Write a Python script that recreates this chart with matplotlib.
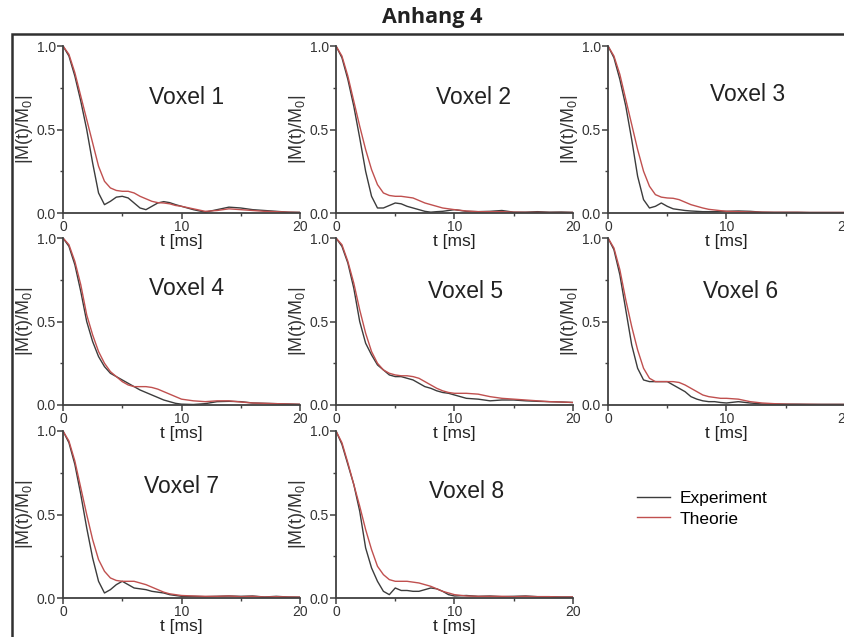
import numpy as np
import matplotlib
matplotlib.use("Agg")
import matplotlib.pyplot as plt
from matplotlib.patches import Rectangle
from matplotlib.ticker import MultipleLocator, FormatStrFormatter

plt.rcParams['font.family'] = ['Liberation Sans', 'DejaVu Sans']
plt.rcParams['mathtext.fontset'] = 'custom'
plt.rcParams['mathtext.rm'] = 'Liberation Sans'
plt.rcParams['mathtext.it'] = 'Liberation Sans:italic'

# time axis [ms], shared by all voxels
t_ms = [0, 0.5, 1, 1.5, 2, 2.5, 3, 3.5, 4, 4.5, 5, 5.5, 6, 6.5, 7, 7.5, 8, 8.5, 9, 9.5,
        10, 11, 12, 13, 14, 15, 16, 17, 18, 19, 20]

# |M(t)/M0|, experiment (black) and theory (red)
exp_v1 = [1, 0.94, 0.82, 0.67, 0.5, 0.3, 0.12, 0.05, 0.07, 0.095, 0.1, 0.09, 0.06, 0.03, 0.02, 0.04,
          0.06, 0.068, 0.062, 0.05, 0.04, 0.02, 0.005, 0.02, 0.035, 0.03, 0.02, 0.015, 0.01, 0.005, 0.004]
theo_v1 = [1, 0.95, 0.84, 0.7, 0.56, 0.42, 0.28, 0.19, 0.15, 0.135, 0.13, 0.13, 0.12, 0.1, 0.085, 0.07,
           0.062, 0.06, 0.055, 0.045, 0.04, 0.025, 0.01, 0.015, 0.025, 0.02, 0.015, 0.01, 0.008, 0.005, 0.003]

exp_v2 = [1, 0.93, 0.8, 0.64, 0.45, 0.25, 0.1, 0.03, 0.03, 0.045, 0.06, 0.055, 0.04, 0.03, 0.02, 0.01,
          0.005, 0.008, 0.01, 0.015, 0.02, 0.01, 0.008, 0.01, 0.015, 0.005, 0.005, 0.008, 0.005, 0.006, 0.004]
theo_v2 = [1, 0.94, 0.82, 0.67, 0.52, 0.38, 0.26, 0.17, 0.12, 0.105, 0.1, 0.1, 0.095, 0.09, 0.075, 0.06,
           0.05, 0.04, 0.03, 0.025, 0.02, 0.012, 0.008, 0.008, 0.008, 0.005, 0.004, 0.004, 0.003, 0.003, 0.003]

exp_v3 = [1, 0.93, 0.8, 0.64, 0.44, 0.22, 0.08, 0.03, 0.04, 0.06, 0.04, 0.025, 0.02, 0.015, 0.012, 0.01,
          0.008, 0.008, 0.008, 0.01, 0.01, 0.012, 0.01, 0.005, 0.004, 0.004, 0.004, 0.003, 0.003, 0.003, 0.003]
theo_v3 = [1, 0.94, 0.83, 0.68, 0.53, 0.38, 0.25, 0.16, 0.11, 0.095, 0.09, 0.088, 0.08, 0.065, 0.05, 0.04,
           0.03, 0.022, 0.018, 0.014, 0.01, 0.008, 0.006, 0.005, 0.004, 0.004, 0.004, 0.003, 0.003, 0.003, 0.003]

exp_v4 = [1, 0.95, 0.84, 0.68, 0.5, 0.38, 0.29, 0.23, 0.19, 0.17, 0.15, 0.13, 0.11, 0.09, 0.075, 0.06,
          0.045, 0.03, 0.02, 0.01, 0.005, 0.003, 0.008, 0.02, 0.022, 0.02, 0.012, 0.01, 0.008, 0.006, 0.004]
theo_v4 = [1, 0.96, 0.86, 0.72, 0.54, 0.42, 0.32, 0.25, 0.2, 0.17, 0.14, 0.12, 0.11, 0.11, 0.11, 0.105,
           0.095, 0.08, 0.065, 0.05, 0.035, 0.025, 0.02, 0.025, 0.025, 0.018, 0.012, 0.01, 0.008, 0.006, 0.004]

exp_v5 = [1, 0.95, 0.85, 0.7, 0.5, 0.37, 0.3, 0.24, 0.21, 0.18, 0.17, 0.17, 0.16, 0.15, 0.13, 0.11,
          0.1, 0.085, 0.075, 0.07, 0.06, 0.04, 0.035, 0.025, 0.03, 0.03, 0.025, 0.022, 0.02, 0.018, 0.015]
theo_v5 = [1, 0.96, 0.86, 0.73, 0.57, 0.43, 0.32, 0.25, 0.21, 0.19, 0.18, 0.175, 0.175, 0.17, 0.16, 0.14,
           0.12, 0.1, 0.085, 0.075, 0.07, 0.07, 0.065, 0.05, 0.04, 0.035, 0.03, 0.025, 0.02, 0.018, 0.015]

exp_v6 = [1, 0.93, 0.78, 0.57, 0.36, 0.22, 0.15, 0.14, 0.14, 0.14, 0.14, 0.12, 0.1, 0.08, 0.05, 0.035,
          0.025, 0.02, 0.02, 0.015, 0.012, 0.02, 0.012, 0.006, 0.006, 0.005, 0.005, 0.004, 0.004, 0.004, 0.004]
theo_v6 = [1, 0.94, 0.81, 0.63, 0.47, 0.33, 0.22, 0.16, 0.14, 0.14, 0.14, 0.14, 0.135, 0.12, 0.1, 0.08,
           0.06, 0.05, 0.045, 0.04, 0.04, 0.035, 0.02, 0.012, 0.008, 0.005, 0.004, 0.004, 0.003, 0.003, 0.003]

exp_v7 = [1, 0.93, 0.8, 0.62, 0.42, 0.24, 0.1, 0.03, 0.05, 0.08, 0.1, 0.08, 0.06, 0.055, 0.05, 0.04,
          0.035, 0.03, 0.02, 0.015, 0.01, 0.01, 0.008, 0.01, 0.012, 0.01, 0.012, 0.006, 0.01, 0.006, 0.005]
theo_v7 = [1, 0.94, 0.82, 0.66, 0.5, 0.35, 0.23, 0.16, 0.12, 0.105, 0.1, 0.1, 0.1, 0.09, 0.08, 0.065,
           0.05, 0.035, 0.025, 0.02, 0.015, 0.012, 0.01, 0.01, 0.012, 0.008, 0.01, 0.006, 0.008, 0.006, 0.005]

exp_v8 = [1, 0.92, 0.8, 0.68, 0.52, 0.3, 0.18, 0.1, 0.04, 0.02, 0.06, 0.045, 0.045, 0.04, 0.04, 0.05,
          0.06, 0.055, 0.04, 0.02, 0.012, 0.015, 0.01, 0.012, 0.008, 0.01, 0.012, 0.008, 0.008, 0.006, 0.006]
theo_v8 = [1, 0.93, 0.81, 0.68, 0.55, 0.41, 0.29, 0.19, 0.14, 0.11, 0.1, 0.1, 0.1, 0.095, 0.09, 0.08,
           0.07, 0.055, 0.04, 0.03, 0.02, 0.012, 0.01, 0.01, 0.01, 0.008, 0.01, 0.008, 0.008, 0.006, 0.006]

voxel_names = ["Voxel 1", "Voxel 2", "Voxel 3", "Voxel 4", "Voxel 5", "Voxel 6", "Voxel 7", "Voxel 8"]
experiment = [exp_v1, exp_v2, exp_v3, exp_v4, exp_v5, exp_v6, exp_v7, exp_v8]
theory = [theo_v1, theo_v2, theo_v3, theo_v4, theo_v5, theo_v6, theo_v7, theo_v8]

# where the voxel name sits inside each panel (axes fraction)
name_pos = [(0.52, 0.69), (0.58, 0.69), (0.59, 0.71), (0.52, 0.695),
            (0.545, 0.68), (0.56, 0.68), (0.50, 0.665), (0.55, 0.64)]

W, H = 845, 637
col_left = [63, 336, 608]      # px of t=0
row_base = [213, 405, 598]     # px of y=0
ax_w, ax_h = 237, 167

exp_color = '#3c3c3c'
theo_color = '#c0504f'
axis_color = '#404040'

fig = plt.figure(figsize=(W / 100, H / 100), dpi=100)

for i in range(8):
    r, c = divmod(i, 3)
    ax = fig.add_axes([col_left[c] / W, 1 - row_base[r] / H, ax_w / W, ax_h / H])
    ax.patch.set_visible(False)  # so the t [ms] label above stays visible
    l1, = ax.plot(t_ms, experiment[i], color=exp_color, lw=1.0)
    l2, = ax.plot(t_ms, theory[i], color=theo_color, lw=1.0)
    ax.set_xlim(0, 20)
    ax.set_ylim(0, 1.0)
    ax.spines['top'].set_visible(False)
    ax.spines['right'].set_visible(False)
    for s in ['left', 'bottom']:
        ax.spines[s].set_color(axis_color)
        ax.spines[s].set_linewidth(1.3)
    ax.xaxis.set_major_locator(MultipleLocator(10))
    ax.xaxis.set_minor_locator(MultipleLocator(5))
    ax.yaxis.set_major_locator(MultipleLocator(0.5))
    ax.yaxis.set_minor_locator(MultipleLocator(0.25))
    ax.yaxis.set_major_formatter(FormatStrFormatter('%.1f'))
    ax.tick_params(which='major', direction='out', length=4, width=1.1, color=axis_color,
                   labelsize=10, labelcolor='#333333', pad=1)
    ax.tick_params(which='minor', direction='out', length=2.5, width=1.0, color=axis_color)
    ax.set_xlabel('t [ms]', fontsize=12.5, labelpad=0, color='#222222')
    ax.set_ylabel(r'|M(t)/M$_\mathregular{0}$|', fontsize=13, labelpad=1, color='#333333')
    ax.text(name_pos[i][0], name_pos[i][1], voxel_names[i], transform=ax.transAxes,
            ha='center', va='center', fontsize=16.5, color='#222222')

fig.legend([l1, l2], ['Experiment', 'Theorie'], loc='upper left',
           bbox_to_anchor=(637 / W, 1 - 491 / H), frameon=False, fontsize=12.5,
           handlelength=1.9, handletextpad=0.55, labelspacing=0.3,
           borderpad=0, borderaxespad=0)

# page frame and heading
fig.add_artist(Rectangle((12 / W, -0.05), 1.0, 1 - 34 / H + 0.05, transform=fig.transFigure,
                         fill=False, edgecolor='#303030', lw=1.8, clip_on=False))
fig.text(432 / W, 1 - 17 / H, 'Anhang 4', ha='center', va='center', fontsize=15.5,
         fontweight='bold', family=['Open Sans', 'DejaVu Sans'], color='#222222')

fig.savefig('out.png', dpi=100)
